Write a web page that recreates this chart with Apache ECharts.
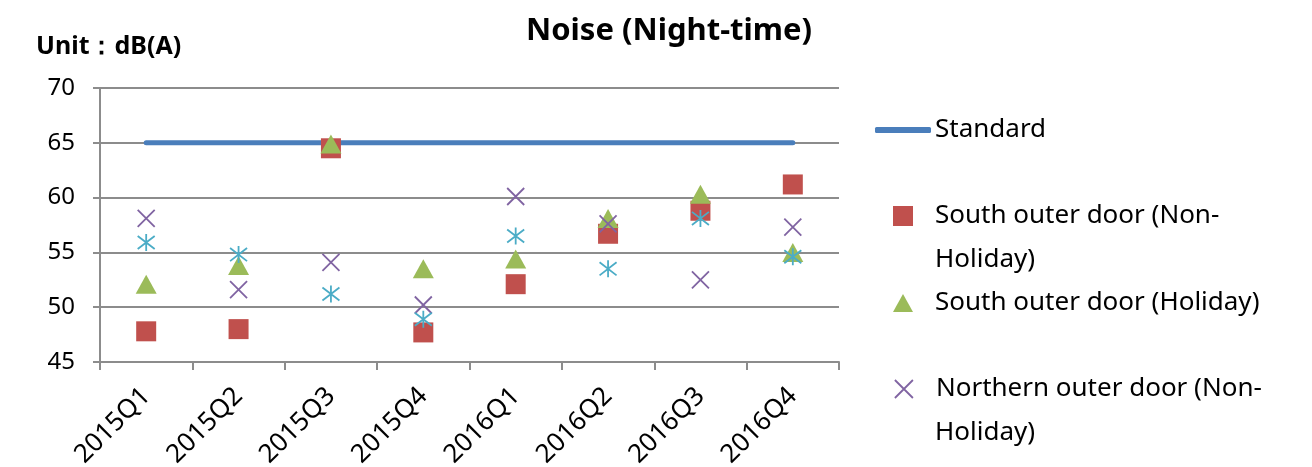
<!DOCTYPE html>
<html>
<head>
<meta charset="utf-8">
<script src="https://cdn.jsdelivr.net/npm/echarts@6/dist/echarts.min.js"></script>
<style>
  html, body { margin: 0; padding: 0; background: #fff; }
  #chart { width: 1312px; height: 467px; }
</style>
</head>
<body>
<div id="chart"></div>
<script>
// Quarterly night-time noise readings, dB(A)
const quarters = ['2015Q1', '2015Q2', '2015Q3', '2015Q4', '2016Q1', '2016Q2', '2016Q3', '2016Q4'];
const standard = [65, 65, 65, 65, 65, 65, 65, 65];
const southNonHoliday = [47.8, 48.0, 64.5, 47.7, 52.1, 56.7, 58.8, 61.2];
const southHoliday = [52.1, 53.8, 64.9, 53.5, 54.4, 58.1, 60.3, 55.0];
const northNonHoliday = [58.1, 51.6, 54.1, 50.2, 60.1, 57.6, 52.5, 57.3];
const northHoliday = [55.9, 54.8, 51.2, 48.9, 56.5, 53.5, 58.1, 54.6];
const yTicks = { min: 45, max: 70, step: 5 };

const FONT = '"Noto Sans", "Open Sans", sans-serif';
const GRID_GRAY = '#8c8c8c';
const COLORS = {
  standard: '#4a7ebb',
  southNon: '#c0504d',
  southHol: '#9bbb59',
  northNon: '#8064a2',
  northHol: '#4bacc6'
};

// Stroked marker shapes
const crossPath = 'path://M0,0L10,10M10,0L0,10';
const starPath = 'path://M0,0L10,10M10,0L0,10M5,-1.5L5,11.5';

function markerSeries(name, data, symbol, size, color, stroked) {
  return {
    name: name,
    type: 'scatter',
    data: data,
    symbol: symbol,
    symbolSize: size,
    itemStyle: stroked
      ? { color: 'rgba(0,0,0,0)', borderColor: color, borderWidth: 1.8, opacity: 1 }
      : { color: color, opacity: 1 },
    emphasis: { disabled: true },
    z: 3
  };
}

// One legend block per entry, each placed by its icon centre;
// the block's box is the taller of icon and text line
function legendBlock(name, cy, iconLeft, iconW, iconH, extra) {
  const lineH = 20;
  const boxH = Math.max(iconH, lineH);
  return Object.assign({
    data: [name],
    orient: 'vertical',
    left: iconLeft,
    top: cy - boxH / 2,
    itemWidth: iconW,
    itemHeight: iconH,
    padding: 0,
    selectedMode: false,
    textStyle: {
      fontFamily: FONT, fontSize: 26, color: '#000',
      lineHeight: lineH,
      padding: [0, 0, 0, 935 - (iconLeft + iconW + 5)]
    }
  }, extra || {});
}

const chart = echarts.init(document.getElementById('chart'), null, { renderer: 'canvas' });
chart.setOption({
  animation: false,
  backgroundColor: '#fff',
  title: [
    {
      text: 'Noise (Night-time)',
      left: 664, top: 11, textAlign: 'center',
      textStyle: { fontFamily: FONT, fontSize: 31, fontWeight: 'bold', color: '#000' }
    },
    {
      text: 'Unit：dB(A)',
      left: 31, top: 29,
      textStyle: { fontFamily: FONT, fontSize: 25, fontWeight: 'bold', color: '#000' }
    }
  ],
  legend: [
    legendBlock('Standard', 127, 875, 56, 6, {
      data: [{ name: 'Standard', icon: 'roundRect', itemStyle: { color: COLORS.standard } }]
    }),
    legendBlock('South outer door (Non-Holiday)', 213, 893, 20, 20, {
      formatter: () => 'South outer door (Non-'
    }),
    legendBlock('South outer door (Holiday)', 300, 893, 20, 18),
    legendBlock('Northern outer door (Non-Holiday)', 386, 894, 18, 18, {
      formatter: () => 'Northern outer door (Non-',
      data: [{
        name: 'Northern outer door (Non-Holiday)',
        itemStyle: { color: 'rgba(0,0,0,0)', borderColor: COLORS.northNon, borderWidth: 1.8 }
      }]
    })
  ],
  // Second lines of the wrapped legend entries
  graphic: [
    {
      type: 'text', left: 935, top: 259 - 12,
      style: { text: 'Holiday)', fontFamily: FONT, fontSize: 26, fill: '#000' }
    },
    {
      type: 'text', left: 935, top: 432 - 12,
      style: { text: 'Holiday)', fontFamily: FONT, fontSize: 26, fill: '#000' }
    }
  ],
  grid: {
    left: 100, right: 473, top: 88, bottom: 105,
    containLabel: false, outerBoundsMode: 'none'
  },
  xAxis: {
    type: 'category',
    data: quarters,
    boundaryGap: true,
    axisLine: { lineStyle: { color: GRID_GRAY, width: 2 } },
    axisTick: { show: true, length: 8, lineStyle: { color: GRID_GRAY, width: 2 } },
    axisLabel: {
      rotate: 45, interval: 0, margin: 30,
      fontFamily: FONT, fontSize: 26, color: '#000'
    }
  },
  yAxis: {
    type: 'value',
    min: yTicks.min, max: yTicks.max, interval: yTicks.step,
    axisLine: { show: true, lineStyle: { color: GRID_GRAY, width: 2 } },
    axisTick: { show: true, length: 7, lineStyle: { color: GRID_GRAY, width: 2 } },
    splitLine: { lineStyle: { color: GRID_GRAY, width: 2 } },
    axisLabel: { fontFamily: FONT, fontSize: 24, color: '#000', margin: 25 }
  },
  series: [
    {
      name: 'Standard',
      type: 'line',
      data: standard,
      symbol: 'none',
      lineStyle: { color: COLORS.standard, width: 5, cap: 'round' },
      itemStyle: { color: COLORS.standard },
      emphasis: { disabled: true },
      z: 2
    },
    markerSeries('South outer door (Non-Holiday)', southNonHoliday, 'rect', 20, COLORS.southNon, false),
    markerSeries('South outer door (Holiday)', southHoliday, 'triangle', [21, 19], COLORS.southHol, false),
    markerSeries('Northern outer door (Non-Holiday)', northNonHoliday, crossPath, 17, COLORS.northNon, true),
    markerSeries('Northern outer door (Holiday)', northHoliday, starPath, 17, COLORS.northHol, true)
  ]
});
</script>
</body>
</html>
